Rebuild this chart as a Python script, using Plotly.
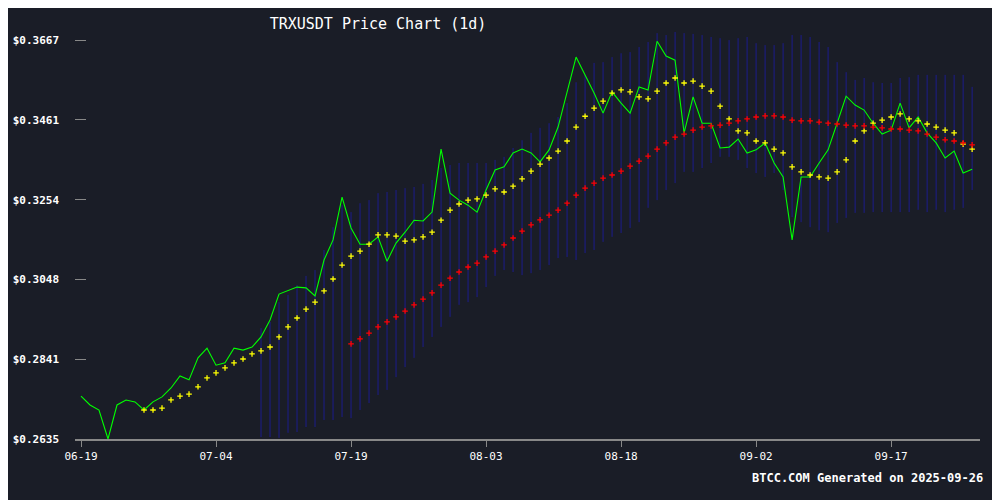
import pandas as pd
import plotly.graph_objects as go

dates = pd.date_range('2025-06-19', periods=100, freq='D')

price = [0.2746, 0.2723, 0.2710, 0.2635, 0.2723, 0.2736, 0.2731, 0.2710, 0.2731, 0.2744,
         0.2767, 0.2798, 0.2788, 0.2845, 0.2870, 0.2826, 0.2832, 0.2870, 0.2865, 0.2873,
         0.2899, 0.2943, 0.3010, 0.3020, 0.3028, 0.3026, 0.3005, 0.3098, 0.3150, 0.3261,
         0.3181, 0.3139, 0.3139, 0.3158, 0.3095, 0.3142, 0.3170, 0.3201, 0.3199, 0.3222,
         0.3385, 0.3271, 0.3253, 0.3240, 0.3222, 0.3279, 0.3331, 0.3339, 0.3375, 0.3385,
         0.3375, 0.3352, 0.3383, 0.3442, 0.3530, 0.3623, 0.3577, 0.3530, 0.3478, 0.3533,
         0.3504, 0.3478, 0.3546, 0.3538, 0.3664, 0.3626, 0.3615, 0.3427, 0.3520, 0.3452,
         0.3452, 0.3388, 0.3390, 0.3411, 0.3375, 0.3383, 0.3401, 0.3349, 0.3313, 0.3150,
         0.3313, 0.3313, 0.3349, 0.3383, 0.3452, 0.3522, 0.3499, 0.3486, 0.3452, 0.3424,
         0.3434, 0.3504, 0.3440, 0.3468, 0.3427, 0.3401, 0.3362, 0.3380, 0.3323, 0.3333]

# short moving average, from 2025-06-26
ma_short = [0.2710, 0.2710, 0.2715, 0.2736, 0.2746, 0.2751, 0.2770, 0.2793, 0.2806, 0.2819,
            0.2832, 0.2842, 0.2855, 0.2863, 0.2873, 0.2899, 0.2925, 0.2948, 0.2971, 0.2989,
            0.3018, 0.3049, 0.3085, 0.3108, 0.3121, 0.3139, 0.3163, 0.3163, 0.3160, 0.3147,
            0.3150, 0.3158, 0.3170, 0.3201, 0.3227, 0.3243, 0.3253, 0.3256, 0.3266, 0.3282,
            0.3274, 0.3289, 0.3308, 0.3328, 0.3346, 0.3362, 0.3380, 0.3406, 0.3442, 0.3470,
            0.3491, 0.3509, 0.3530, 0.3538, 0.3533, 0.3520, 0.3515, 0.3535, 0.3556, 0.3569,
            0.3556, 0.3561, 0.3548, 0.3535, 0.3496, 0.3463, 0.3432, 0.3427, 0.3406, 0.3401,
            0.3385, 0.3375, 0.3339, 0.3326, 0.3318, 0.3313, 0.3310, 0.3326, 0.3357, 0.3406,
            0.3432, 0.3452, 0.3460, 0.3468, 0.3476, 0.3463, 0.3458, 0.3450, 0.3442, 0.3434,
            0.3427, 0.3398, 0.3385]

# long moving average, from 2025-07-19
ma_long = [0.2881, 0.2894, 0.2909, 0.2925, 0.2938, 0.2951, 0.2966, 0.2982, 0.2997, 0.3013,
           0.3033, 0.3051, 0.3067, 0.3080, 0.3090, 0.3106, 0.3121, 0.3137, 0.3155, 0.3173,
           0.3189, 0.3202, 0.3214, 0.3227, 0.3245, 0.3266, 0.3284, 0.3297, 0.3310, 0.3318,
           0.3328, 0.3341, 0.3354, 0.3367, 0.3385, 0.3401, 0.3416, 0.3424, 0.3434, 0.3442,
           0.3445, 0.3447, 0.3452, 0.3458, 0.3463, 0.3468, 0.3471, 0.3471, 0.3468, 0.3460,
           0.3458, 0.3458, 0.3455, 0.3452, 0.3450, 0.3447, 0.3445, 0.3445, 0.3442, 0.3440,
           0.3437, 0.3437, 0.3434, 0.3432, 0.3424, 0.3416, 0.3409, 0.3406, 0.3401, 0.3396]

# bollinger bands, from 2025-07-09
bb_upper = [0.2922, 0.2938, 0.2989, 0.3008, 0.3033, 0.3057, 0.3072, 0.3124, 0.3183, 0.3240,
            0.3222, 0.3245, 0.3253, 0.3271, 0.3274, 0.3279, 0.3284, 0.3287, 0.3295, 0.3305,
            0.3336, 0.3344, 0.3349, 0.3349, 0.3349, 0.3349, 0.3357, 0.3365, 0.3388, 0.3408,
            0.3427, 0.3440, 0.3452, 0.3468, 0.3504, 0.3558, 0.3577, 0.3608, 0.3610, 0.3623,
            0.3633, 0.3636, 0.3649, 0.3662, 0.3685, 0.3680, 0.3688, 0.3685, 0.3683, 0.3680,
            0.3675, 0.3672, 0.3667, 0.3672, 0.3675, 0.3659, 0.3654, 0.3654, 0.3659, 0.3680,
            0.3680, 0.3675, 0.3662, 0.3649, 0.3610, 0.3584, 0.3564, 0.3569, 0.3558, 0.3556,
            0.3556, 0.3569, 0.3571, 0.3577, 0.3577, 0.3577, 0.3577, 0.3577, 0.3577, 0.3546]
bb_lower = [0.2640, 0.2640, 0.2638, 0.2651, 0.2653, 0.2666, 0.2666, 0.2684, 0.2684, 0.2692,
            0.2689, 0.2710, 0.2728, 0.2749, 0.2762, 0.2795, 0.2821, 0.2845, 0.2873, 0.2899,
            0.2925, 0.2951, 0.2982, 0.2989, 0.3002, 0.3028, 0.3057, 0.3072, 0.3067, 0.3059,
            0.3064, 0.3072, 0.3085, 0.3103, 0.3106, 0.3098, 0.3116, 0.3124, 0.3145, 0.3158,
            0.3168, 0.3181, 0.3196, 0.3233, 0.3253, 0.3279, 0.3297, 0.3326, 0.3326, 0.3336,
            0.3349, 0.3365, 0.3365, 0.3357, 0.3336, 0.3323, 0.3313, 0.3323, 0.3279, 0.3209,
            0.3196, 0.3183, 0.3175, 0.3170, 0.3194, 0.3207, 0.3220, 0.3220, 0.3222, 0.3222,
            0.3222, 0.3222, 0.3222, 0.3228, 0.3222, 0.3228, 0.3222, 0.3228, 0.3233, 0.3279]

y_ticks = [0.2635, 0.2841, 0.3048, 0.3254, 0.3461, 0.3667]
x_ticks = ['2025-06-19', '2025-07-04', '2025-07-19', '2025-08-03',
           '2025-08-18', '2025-09-02', '2025-09-17']

bg = '#1a1d27'
mono = 'DejaVu Sans Mono'

bb_dates = dates[100 - len(bb_upper):]
bx, by = [], []
for d, lo, hi in zip(bb_dates, bb_lower, bb_upper):
    bx += [d, d, None]
    by += [lo, hi, None]

fig = go.Figure()
fig.add_trace(go.Scatter(x=bx, y=by, mode='lines',
                         line=dict(color='#1c1c8c', width=1), hoverinfo='skip'))
fig.add_trace(go.Scatter(x=dates, y=price, mode='lines',
                         line=dict(color='#00ff00', width=1.1)))
fig.add_trace(go.Scatter(x=dates[100 - len(ma_short):], y=ma_short, mode='markers',
                         marker=dict(symbol='cross-thin', size=4, color='#ffff00',
                                     line=dict(color='#ffff00', width=1.3))))
fig.add_trace(go.Scatter(x=dates[100 - len(ma_long):], y=ma_long, mode='markers',
                         marker=dict(symbol='cross-thin', size=4, color='#ff0000',
                                     line=dict(color='#ff0000', width=1.3))))

# page body adds 8px around the figure, so the figure is a bit smaller
fig.update_layout(
    width=992, height=492, showlegend=False,
    paper_bgcolor=bg, plot_bgcolor=bg,
    margin=dict(l=67, r=20, t=12, b=61),
    title=dict(text='TRXUSDT Price Chart (1d)', x=0.373, xanchor='center',
               y=0.968, yanchor='middle',
               font=dict(family=mono, size=15, color='white')),
    font=dict(family=mono, size=11, color='white'),
)
fig.update_xaxes(
    range=['2025-06-18 08:00', '2025-09-26 21:00'], automargin=False,
    tickvals=x_ticks, ticktext=[t[5:] for t in x_ticks],
    showgrid=False, zeroline=False, showline=True, linecolor='#888888', linewidth=1.5,
    ticks='outside', ticklen=6, tickcolor='#888888',
    tickfont=dict(family=mono, size=11, color='white'),
)
fig.update_yaxes(
    range=[0.2635, 0.3719], automargin=False,
    tickvals=y_ticks, ticktext=[f'${v:.4f}' for v in y_ticks],
    showgrid=False, zeroline=False, showline=False,
    ticks='inside', ticklen=11, tickcolor='#888888', ticklabelstandoff=15,
    tickfont=dict(family=mono, size=11, color='white', weight='bold'),
)
fig.add_annotation(text='<b>BTCC.COM Generated on 2025-09-26</b>', xref='paper', yref='paper',
                   x=1.006, y=-0.093, xanchor='right', yanchor='middle', showarrow=False,
                   font=dict(family=mono, size=12, color='white'))

fig.write_html('out.html')
